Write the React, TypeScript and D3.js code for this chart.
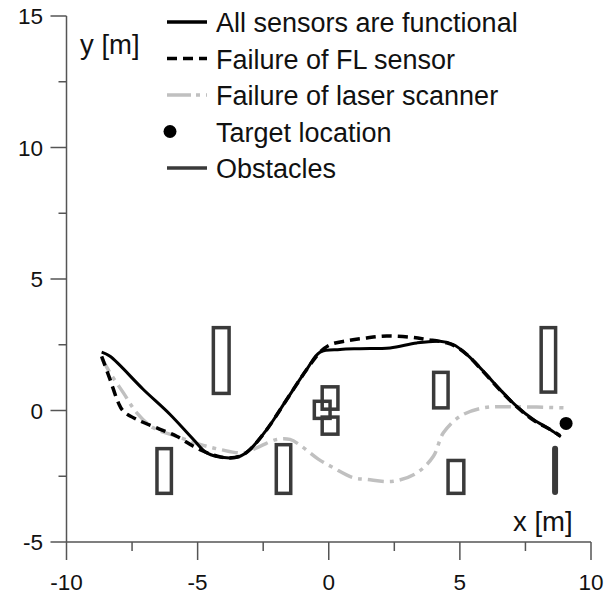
import React from "react";
import * as d3 from "d3";

// Trajectories of the robot, x/y in metres
const allSensorsX = [-8.66, -8.34, -7.07, -6.05, -5.16, -4.65, -3.89, -3.38, -3.0, -2.36, -1.6, -0.84, -0.33, 0.43, 1.19, 2.34, 3.36, 4.24, 4.75, 5.26, 5.9, 6.53, 7.17, 7.8, 8.44, 8.85];
const allSensorsY = [2.22, 2.06, 0.8, -0.15, -1.1, -1.61, -1.8, -1.74, -1.48, -0.72, 0.42, 1.56, 2.22, 2.32, 2.35, 2.38, 2.57, 2.63, 2.51, 2.13, 1.49, 0.8, 0.16, -0.34, -0.72, -1.0];

const flFailureX = [-8.66, -8.34, -8.02, -7.83, -7.32, -6.56, -5.8, -5.16, -4.78, -4.3, -3.89, -3.38, -3.0, -2.36, -1.6, -0.84, -0.3, 0.05, 0.69, 1.45, 2.21, 3.1, 3.74, 4.5, 4.9, 5.3, 5.9, 6.53, 7.17, 7.8, 8.44, 8.82];
const flFailureY = [2.06, 1.18, 0.29, -0.03, -0.34, -0.66, -0.98, -1.36, -1.55, -1.72, -1.8, -1.74, -1.48, -0.72, 0.42, 1.56, 2.25, 2.5, 2.65, 2.76, 2.83, 2.79, 2.7, 2.57, 2.4, 2.1, 1.47, 0.78, 0.14, -0.36, -0.72, -0.96];

const laserFailureX = [-8.66, -8.34, -7.83, -7.32, -6.69, -5.8, -4.91, -4.15, -3.26, -2.62, -1.98, -1.48, -1.09, -0.4, 0.18, 0.94, 1.45, 2.46, 3.36, 3.99, 4.37, 5.01, 5.9, 7.17, 8.95];
const laserFailureY = [2.0, 1.43, 0.67, -0.09, -0.66, -0.98, -1.29, -1.48, -1.61, -1.36, -1.1, -1.1, -1.32, -1.85, -2.18, -2.56, -2.62, -2.69, -2.37, -1.74, -0.85, -0.22, 0.1, 0.14, 0.1];

// Target location
const targetX = 9.05;
const targetY = -0.49;

// Obstacles as boxes [x0, x1, y0, y1]
const obstacleX0 = [-4.4, -6.55, -2.0, -0.25, -0.55, -0.25, 4.0, 4.55, 8.1];
const obstacleX1 = [-3.8, -6.0, -1.45, 0.35, 0.05, 0.35, 4.55, 5.15, 8.65];
const obstacleY0 = [0.65, -3.15, -3.15, 0.05, -0.3, -0.9, 0.1, -3.15, 0.7];
const obstacleY1 = [3.15, -1.45, -1.3, 0.9, 0.35, -0.25, 1.45, -1.9, 3.15];

// Thin wall obstacle
const wallX = 8.63;
const wallY0 = -3.1;
const wallY1 = -1.45;

const xTicks = [-10, -5, 0, 5, 10];
const xMinorTicks = [-7.5, -2.5, 2.5, 7.5];
const yTicks = [-5, 0, 5, 10, 15];
const yMinorTicks = [-2.5, 2.5, 7.5, 12.5];

const legendLabels = [
  "All sensors are functional",
  "Failure of FL sensor",
  "Failure of laser scanner",
  "Target location",
  "Obstacles",
];

const FONT = "Arial, 'Liberation Sans', sans-serif";
const OBST = "#3a3a3a";
const GRAY = "#c0c0c0";

export default function App() {
  const x = d3.scaleLinear().domain([-10, 10]).range([66.5, 591]);
  const y = d3.scaleLinear().domain([-5, 15]).range([542, 16]);

  const line = d3
    .line<[number, number]>()
    .x((d) => x(d[0]))
    .y((d) => y(d[1]))
    .curve(d3.curveCatmullRom.alpha(0.5));

  const zip = (xs: number[], ys: number[]) =>
    xs.map((v, i) => [v, ys[i]] as [number, number]);

  const legendY = [22, 58.5, 95, 131.5, 168];

  return (
    <svg
      width={614}
      height={596}
      style={{ position: "absolute", left: 0, top: 0, background: "#fff" }}
      fontFamily={FONT}
    >
      {/* axes */}
      <g stroke="#555" strokeWidth={1.5} fill="none">
        <line x1={x(-10)} x2={x(-10)} y1={y(15)} y2={y(-5) + 18} />
        <line x1={x(-10) - 16} x2={x(10)} y1={y(-5)} y2={y(-5)} />
        {xTicks.slice(1).map((t) => (
          <line key={"xt" + t} x1={x(t)} x2={x(t)} y1={y(-5)} y2={y(-5) + 18} />
        ))}
        {xMinorTicks.map((t) => (
          <line key={"xm" + t} x1={x(t)} x2={x(t)} y1={y(-5)} y2={y(-5) + 9} />
        ))}
        {yTicks.slice(1).map((t) => (
          <line key={"yt" + t} x1={x(-10) - 16} x2={x(-10)} y1={y(t)} y2={y(t)} />
        ))}
        {yMinorTicks.map((t) => (
          <line key={"ym" + t} x1={x(-10) - 8} x2={x(-10)} y1={y(t)} y2={y(t)} />
        ))}
      </g>
      <g fontSize={22.5} fill="#111">
        {xTicks.map((t) => (
          <text key={"xl" + t} x={x(t)} y={590} textAnchor="middle">
            {t}
          </text>
        ))}
        {yTicks.map((t) => (
          <text key={"yl" + t} x={43} y={y(t) + 8} textAnchor="end">
            {t}
          </text>
        ))}
      </g>
      <text x={80} y={54} fontSize={27.5} fill="#111">
        y [m]
      </text>
      <text x={513} y={531} fontSize={27.5} fill="#111">
        x [m]
      </text>

      {/* obstacles */}
      <g stroke={OBST} strokeWidth={3.5} fill="none">
        {obstacleX0.map((x0, i) => (
          <rect
            key={"ob" + i}
            x={x(x0)}
            y={y(obstacleY1[i])}
            width={x(obstacleX1[i]) - x(x0)}
            height={y(obstacleY0[i]) - y(obstacleY1[i])}
          />
        ))}
        <line
          x1={x(wallX)}
          x2={x(wallX)}
          y1={y(wallY0)}
          y2={y(wallY1)}
          strokeWidth={6}
          strokeLinecap="round"
        />
      </g>

      {/* trajectories */}
      <path
        d={line(zip(laserFailureX, laserFailureY)) || ""}
        fill="none"
        stroke={GRAY}
        strokeWidth={3.5}
        strokeDasharray="16 6 4 6"
      />
      <path
        d={line(zip(flFailureX, flFailureY)) || ""}
        fill="none"
        stroke="#000"
        strokeWidth={3.5}
        strokeDasharray="10 6"
      />
      <path
        d={line(zip(allSensorsX, allSensorsY)) || ""}
        fill="none"
        stroke="#000"
        strokeWidth={3}
      />
      <circle cx={x(targetX)} cy={y(targetY)} r={6.5} fill="#000" />

      {/* legend */}
      <g>
        <line x1={167} x2={207} y1={legendY[0]} y2={legendY[0]} stroke="#000" strokeWidth={3.5} />
        <line x1={167} x2={207} y1={legendY[1]} y2={legendY[1]} stroke="#000" strokeWidth={3.5} strokeDasharray="10 6" />
        <line x1={167} x2={207} y1={legendY[2]} y2={legendY[2]} stroke={GRAY} strokeWidth={3.5} strokeDasharray="24 5 4 6" />
        <circle cx={170} cy={legendY[3]} r={6.5} fill="#000" />
        <line x1={167} x2={207} y1={legendY[4]} y2={legendY[4]} stroke={OBST} strokeWidth={3.5} />
        {legendLabels.map((s, i) => (
          <text key={s} x={216} y={legendY[i] + 10} fontSize={27} fill="#111">
            {s}
          </text>
        ))}
      </g>
    </svg>
  );
}
